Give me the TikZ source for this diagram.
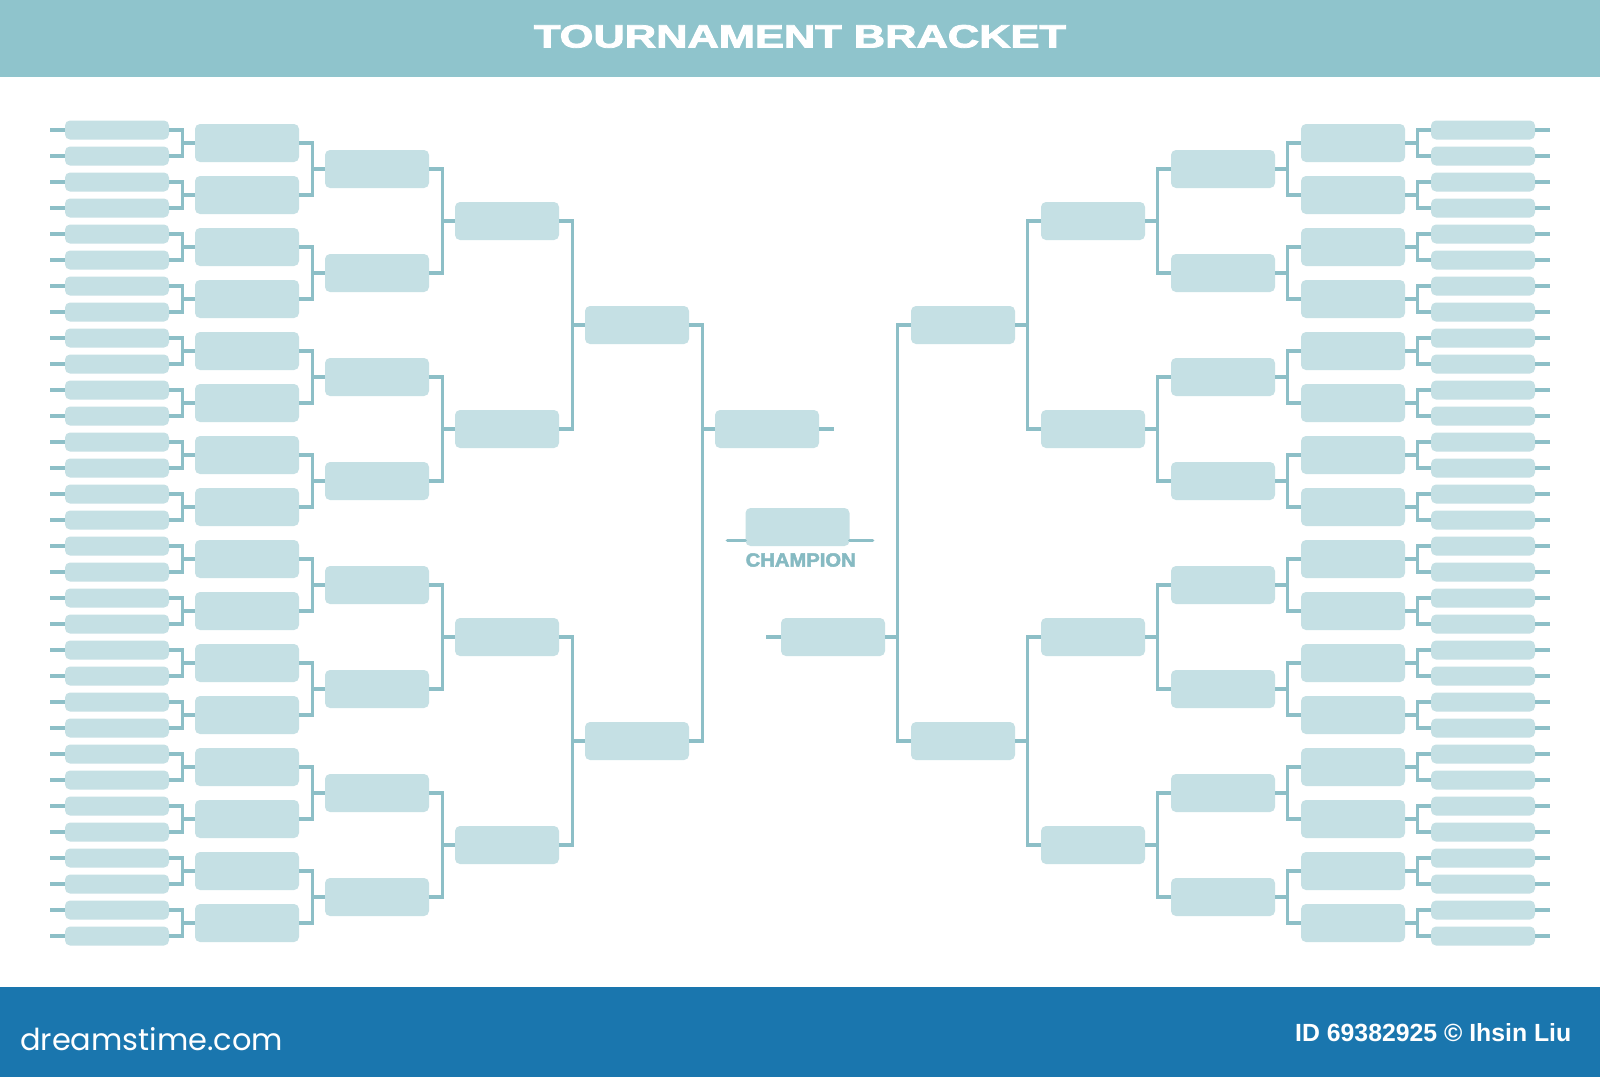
\documentclass[tikz,border=0pt]{standalone}
\usepackage{fontspec}
\setmainfont{Liberation Sans}
\newfontfamily\popfont{Poppins}
\newfontfamily\heavy{Liberation Sans}[BoldFeatures={FakeBold=2.5}]
\usetikzlibrary{calc}
\definecolor{hdr}{HTML}{8FC4CC}
\definecolor{boxfill}{HTML}{C5E0E4}
\definecolor{ln}{HTML}{8DBFC7}
\definecolor{ftr}{HTML}{1A76AE}
\definecolor{champ}{HTML}{86BAC2}
\begin{document}
\begin{tikzpicture}[x=1pt,y=-1pt,
  slot/.style={fill=boxfill, rounded corners=5pt, minimum width=104pt, inner sep=0pt, draw=none},
  slotA/.style={slot, minimum height=19pt},
  slotB/.style={slot, minimum height=38pt},
  wire/.style={draw=ln, line width=3.2pt, line join=miter}]
\useasboundingbox (0,0) rectangle (1600,1077);
\fill[white] (0,0) rectangle (1600,1077);
\fill[hdr] (0,0) rectangle (1600,77);
\fill[ftr] (0,987) rectangle (1600,1077);
% left bracket boxes
\foreach \k in {0,...,31} \node[slotA] (L1-\k) at (117,130+26*\k) {};
\foreach \k in {0,...,15} \node[slotB] (L2-\k) at (247,143+52*\k) {};
\foreach \k in {0,...,7} \node[slotB] (L3-\k) at (377,169+104*\k) {};
\foreach \k in {0,...,3} \node[slotB] (L4-\k) at (507,221+208*\k) {};
\foreach \k in {0,1} \node[slotB] (L5-\k) at (637,325+416*\k) {};
\node[slotB] (L6) at (767,429) {};
% right bracket boxes
\foreach \k in {0,...,31} \node[slotA] (R1-\k) at (1483,130+26*\k) {};
\foreach \k in {0,...,15} \node[slotB] (R2-\k) at (1353,143+52*\k) {};
\foreach \k in {0,...,7} \node[slotB] (R3-\k) at (1223,169+104*\k) {};
\foreach \k in {0,...,3} \node[slotB] (R4-\k) at (1093,221+208*\k) {};
\foreach \k in {0,1} \node[slotB] (R5-\k) at (963,325+416*\k) {};
\node[slotB] (R6) at (833,637) {};
% champion
\node[slotB] (CH) at (797.5,527) {};
% lead lines
\foreach \k in {0,...,31} {
  \draw[wire] (L1-\k.west) -- ++(-15,0);
  \draw[wire] (R1-\k.east) -- ++(15,0);
}
% connectors
\foreach \r/\m in {1/15,2/7,3/3,4/1} {
  \pgfmathtruncatemacro\nr{\r+1}
  \foreach \k in {0,...,\m} {
    \pgfmathtruncatemacro\a{2*\k}
    \pgfmathtruncatemacro\b{2*\k+1}
    \draw[wire] (L\r-\a.east) -- ++(13,0) |- (L\r-\b.east);
    \draw[wire] (L\nr-\k.west) -- ++(-13,0);
    \draw[wire] (R\r-\a.west) -- ++(-13,0) |- (R\r-\b.west);
    \draw[wire] (R\nr-\k.east) -- ++(13,0);
  }
}
\draw[wire] (L5-0.east) -- ++(13,0) |- (L5-1.east);
\draw[wire] (L6.west) -- ++(-13,0);
\draw[wire] (L6.east) -- ++(15,0);
\draw[wire] (R5-0.west) -- ++(-13,0) |- (R5-1.west);
\draw[wire] (R6.east) -- ++(13,0);
\draw[wire] (R6.west) -- ++(-15,0);
\draw[wire, line cap=round] ($(CH.south west)+(0,-6)$) -- ++(-18,0);
\draw[wire, line cap=round] ($(CH.south east)+(0,-6)$) -- ++(23,0);
% texts
\node[text=champ, inner sep=0] (champtxt) at (800.7,560) {\resizebox{110pt}{13.3pt}{\heavy\bfseries CHAMPION}};
\node[text=white, anchor=base, inner sep=0] (title) at (800,47.5) {\resizebox{532pt}{22.5pt}{\heavy\bfseries TOURNAMENT BRACKET}};
\node[text=white, anchor=base west, inner sep=0] (site) at (20,1050) {\resizebox{263pt}{23pt}{\popfont dreamstime.com}};
\node[text=white, anchor=base west, inner sep=0] (idtxt) at (1295,1041) {\resizebox{276pt}{18pt}{\bfseries ID 69382925 © Ihsin Liu}};
\end{tikzpicture}
\end{document}
